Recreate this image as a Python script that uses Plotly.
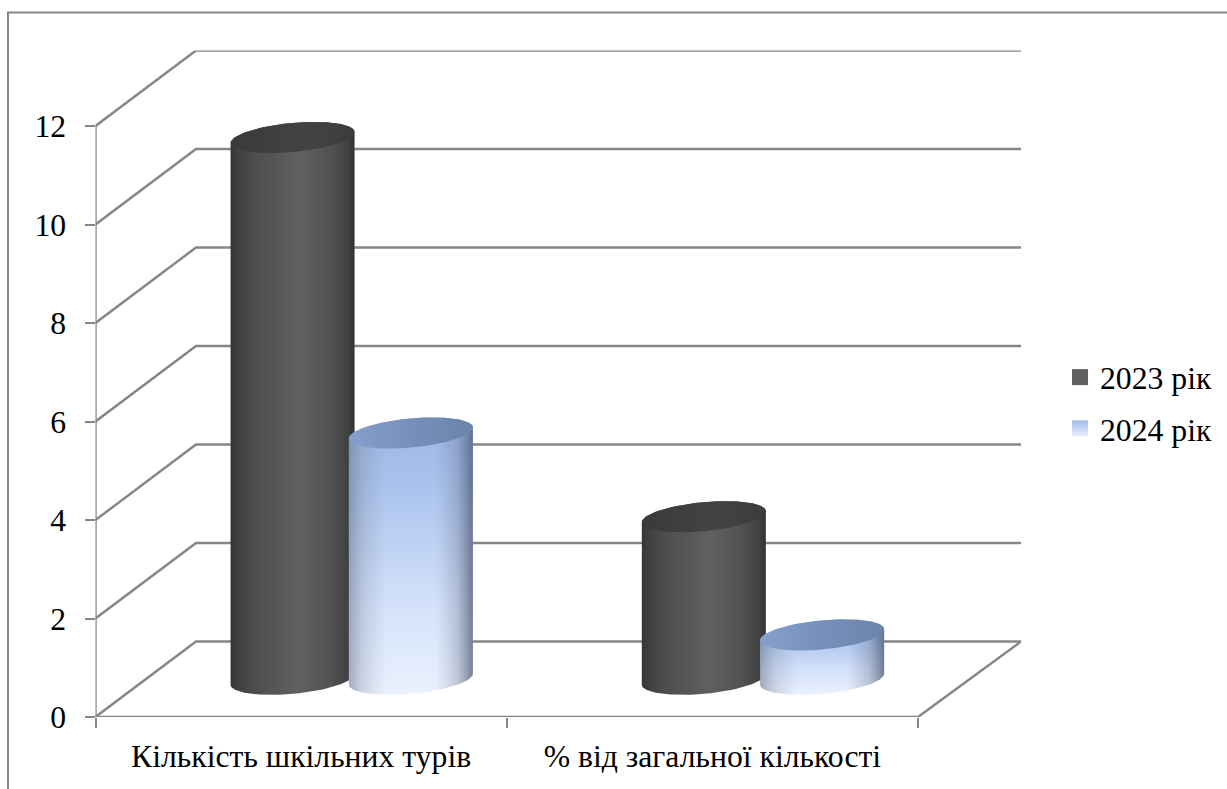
import numpy as np
import plotly.graph_objects as go

categories = ["Кількість шкільних турів", "% від загальної кількості"]
series_names = ["2023 рік", "2024 рік"]
values_2023 = [11, 3.3]
values_2024 = [5, 0.9]
y_ticks = [0, 2, 4, 6, 8, 10, 12]

W, H = 1227, 789
X0_PX, X1_PX, Y0_PX, Y1_PX = 95.5, 1021.0, 717.0, 50.5
CAT_PX = 411.25
UNIT_PX = 49.25
DEPTH_X = 100.5 / CAT_PX
DEPTH_X_R = 103.0 / CAT_PX
DEPTH_Y = 75.5 / UNIT_PX
CYL_OFFSET = [0.357 - 0.5, 0.6447 - 0.5]
A_PX, B_PX, K_PX = 62.0, 14.6, 5.5

GRID = "#868686"
FONT = dict(family="Liberation Serif", size=31.7, color="#000000")

fig = go.Figure()


def line(xs, ys, width=2.4):
    fig.add_trace(go.Scatter(x=xs, y=ys, mode="lines", cliponaxis=False, showlegend=False,
                             hoverinfo="skip", line=dict(color=GRID, width=width)))


# walls and gridlines
ncat = len(categories)
for v in y_ticks:
    line([0, DEPTH_X, ncat + DEPTH_X_R], [v, v + DEPTH_Y, v + DEPTH_Y])
line([0, 0], [0, max(y_ticks)])
line([0, ncat, ncat + DEPTH_X_R], [0, 0, DEPTH_Y])


def ellipse(cx, cy, t):
    x = cx + A_PX / CAT_PX * np.cos(t)
    y = cy + (B_PX * np.sin(t) + K_PX * np.cos(t)) / UNIT_PX
    return x, y


def patch(x, y, kind, scale):
    fig.add_trace(go.Scatter(x=x, y=y, mode="lines", fill="toself", cliponaxis=False,
                             line=dict(width=0), showlegend=False, hoverinfo="skip",
                             fillgradient=dict(type=kind, colorscale=scale)))


def cylinder(cx, value, side_h, side_v, cap):
    cy0 = DEPTH_Y / 2
    cy1 = cy0 + value
    bx, by = ellipse(cx, cy0, np.linspace(np.pi, 2 * np.pi, 70))
    tx, ty = ellipse(cx, cy1, np.linspace(0, np.pi, 70))
    sx = np.concatenate([bx, tx])
    sy = np.concatenate([by, ty])
    if side_v is not None:
        patch(sx, sy, "vertical", side_v)
    patch(sx, sy, "horizontal", side_h)
    ex, ey = ellipse(cx, cy1, np.linspace(0, 2 * np.pi, 140))
    patch(ex, ey, "horizontal", cap)


DARK_SIDE = [[0, "#363636"], [0.06, "#404040"], [0.2, "#4e4e4e"], [0.55, "#606060"],
             [0.8, "#525252"], [0.95, "#404040"], [1, "#313131"]]
DARK_CAP = [[0, "#3a3a3a"], [0.6, "#434343"], [1, "#3c3c3c"]]
BLUE_V = [[0, "#eaf1fe"], [0.3, "#d6e3fb"], [0.75, "#aac3ed"], [1, "#9ab6e4"]]
BLUE_H = [[0, "rgba(95,105,125,0.5)"], [0.12, "rgba(110,120,140,0.22)"], [0.3, "rgba(120,130,150,0)"],
          [0.7, "rgba(120,130,150,0)"], [0.88, "rgba(90,100,125,0.3)"], [1, "rgba(70,80,105,0.7)"]]
BLUE_CAP = [[0, "#85a0cc"], [0.5, "#7690bb"], [1, "#6b84ab"]]

for i in range(ncat):
    cx = i + 0.5 + DEPTH_X / 2
    cylinder(cx + CYL_OFFSET[0], values_2023[i], DARK_SIDE, None, DARK_CAP)
    cylinder(cx + CYL_OFFSET[1], values_2024[i], BLUE_H, BLUE_V, BLUE_CAP)

# legend entries
fig.add_trace(go.Scatter(x=[None], y=[None], mode="markers", name=series_names[0], legendgroup="a",
                         marker=dict(symbol="square", size=16, color="#606060", line=dict(width=0))))
fig.add_trace(go.Scatter(x=[None], y=[None], mode="markers", name=series_names[1], legendgroup="b",
                         marker=dict(symbol="square", size=16, color="#a3bce8",
                                     gradient=dict(type="vertical", color="#e6eefc"), line=dict(width=0))))

fig.update_layout(
    width=W, height=H, margin=dict(l=0, r=0, t=0, b=0),
    paper_bgcolor="#ffffff", plot_bgcolor="rgba(0,0,0,0)", font=FONT, hovermode=False,
    xaxis=dict(domain=[X0_PX / W, X1_PX / W], range=[0, (X1_PX - X0_PX) / CAT_PX], automargin=False,
               tickvals=[i + 0.5 for i in range(ncat)], ticktext=categories, ticks="",
               ticklabelstandoff=17, showgrid=False, zeroline=False, showline=False,
               minor=dict(tickvals=list(range(ncat + 1)), ticks="outside", ticklen=10,
                          tickwidth=2, tickcolor=GRID, showgrid=False)),
    yaxis=dict(domain=[1 - Y0_PX / H, 1 - Y1_PX / H], range=[0, (Y0_PX - Y1_PX) / UNIT_PX], automargin=False,
               tickvals=y_ticks, ticks="outside", ticklen=10, tickwidth=2, tickcolor=GRID,
               ticklabelstandoff=12, showgrid=False, zeroline=False, showline=False),
    legend=dict(x=1060 / W, y=1 - 350 / H, xanchor="left", yanchor="top", tracegroupgap=7,
                bgcolor="rgba(0,0,0,0)", font=FONT),
    shapes=[dict(type="rect", xref="paper", yref="paper", x0=8 / W, x1=1.02, y0=-0.02, y1=1 - 12.5 / H,
                 line=dict(color=GRID, width=2), layer="below")],
)
fig.write_html("out.html", config=dict(displayModeBar=False),
               post_script="document.body.style.margin='0';")
